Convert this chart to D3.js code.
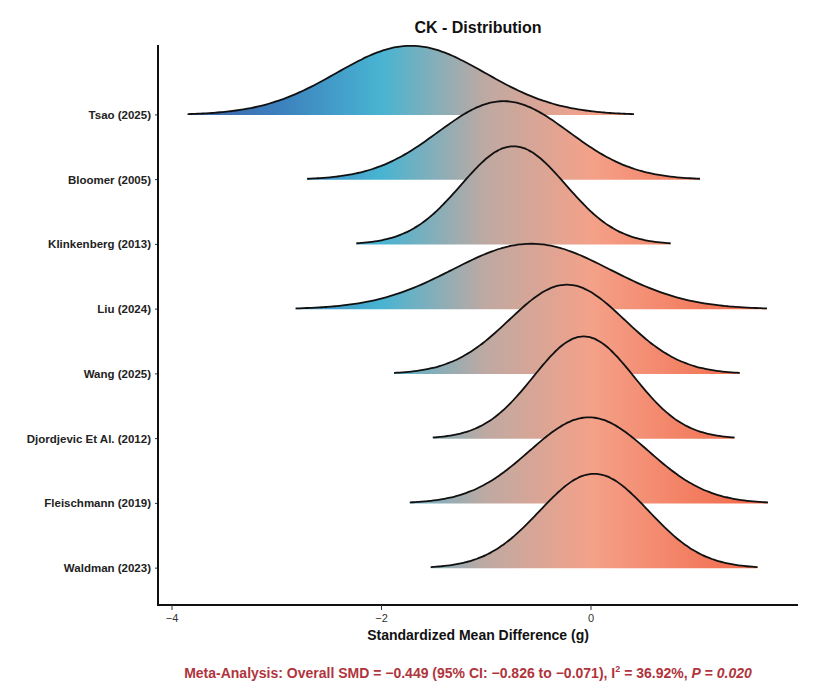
<!DOCTYPE html>
<html><head><meta charset="utf-8">
<script src="https://cdn.jsdelivr.net/npm/d3@7"></script>
<style>body{margin:0;background:#fff;font-family:"Liberation Sans",Arial,sans-serif}</style>
</head><body><svg id="chart"></svg>
<script>
const studies = ["Tsao (2025)","Bloomer (2005)","Klinkenberg (2013)","Liu (2024)","Wang (2025)","Djordjevic Et Al. (2012)","Fleischmann (2019)","Waldman (2023)"];
const means = [-1.72,-0.835,-0.74,-0.57,-0.23,-0.07,-0.02,0.03];
const sds = [0.71,0.625,0.50,0.75,0.55,0.48,0.57,0.52];
const xTicks = [-4,-2,0];

const width = 813, height = 698;
const svg = d3.select("#chart").attr("width", width).attr("height", height);

const x = d3.scaleLinear().domain([-4,0]).range([172,591]);
const y = d3.scaleBand().domain(studies).range([82,600]);
const base = s => y(s) + y.bandwidth()/2 + 0.5;
const h = d3.scaleLinear().domain([0,1]).range([0,123]);

const grad = svg.append("defs").append("linearGradient")
  .attr("id","g").attr("gradientUnits","userSpaceOnUse")
  .attr("x1",x(-4)).attr("x2",x(1.6)).attr("y1",0).attr("y2",0);
const stops = [[-4,"#3a5ca6"],[-3,"#3c7fbd"],[-2,"#48b4d2"],[-1,"#bfa9a2"],[0,"#f4a189"],[1.6,"#f26848"]];
stops.forEach(([v,c]) => grad.append("stop").attr("offset",(v+4)/5.6).attr("stop-color",c));

const pdf = (v,m,s) => Math.exp(-0.5*((v-m)/s)**2)/(s*Math.sqrt(2*Math.PI));

studies.forEach((s,i) => {
  const m = means[i], sd = sds[i], b = base(s);
  const pts = d3.range(0,121).map(k => m - 3*sd + k*6*sd/120);
  const area = d3.area().x(v => x(v)).y0(b).y1(v => b - h(pdf(v,m,sd))).curve(d3.curveBasis);
  const line = d3.line().x(v => x(v)).y(v => b - h(pdf(v,m,sd))).curve(d3.curveBasis);
  svg.append("path").attr("d",area(pts)).attr("fill","url(#g)");
  svg.append("path").attr("d",line(pts)).attr("fill","none").attr("stroke","#111").attr("stroke-width",1.8);
  svg.append("text").attr("x",151).attr("y",b+4).attr("text-anchor","end")
    .attr("font-size",11.5).attr("font-weight","bold").attr("fill","#222").text(s);
  svg.append("line").attr("x1",155).attr("x2",158).attr("y1",b).attr("y2",b).attr("stroke","#333");
});

svg.append("line").attr("x1",158).attr("x2",158).attr("y1",45).attr("y2",606).attr("stroke","#111").attr("stroke-width",2);
svg.append("line").attr("x1",157).attr("x2",798).attr("y1",605).attr("y2",605).attr("stroke","#111").attr("stroke-width",2);
xTicks.forEach(t => {
  svg.append("line").attr("x1",x(t)).attr("x2",x(t)).attr("y1",605).attr("y2",610).attr("stroke","#333");
  svg.append("text").attr("x",x(t)).attr("y",622).attr("text-anchor","middle").attr("font-size",11)
    .attr("fill","#333").text(t < 0 ? "\u2212" + (-t) : t);
});

svg.append("text").attr("x",478).attr("y",33).attr("text-anchor","middle").attr("font-size",16)
  .attr("font-weight","bold").attr("fill","#111").text("CK - Distribution");
svg.append("text").attr("x",478).attr("y",640).attr("text-anchor","middle").attr("font-size",14)
  .attr("font-weight","bold").attr("fill","#111").text("Standardized Mean Difference (g)");

const f = svg.append("text").attr("x",468).attr("y",678).attr("text-anchor","middle")
  .attr("font-size",14).attr("font-weight","bold").attr("fill","#b0343c");
f.append("tspan").text("Meta-Analysis: Overall SMD = \u22120.449 (95% CI: \u22120.826 to \u22120.071), I");
f.append("tspan").attr("font-size",9).attr("dy",-6).text("2");
f.append("tspan").attr("dy",6).text(" = 36.92%, ");
f.append("tspan").attr("font-style","italic").text("P");
f.append("tspan").text(" = ");
f.append("tspan").attr("font-style","italic").text("0.020");
</script></body></html>
